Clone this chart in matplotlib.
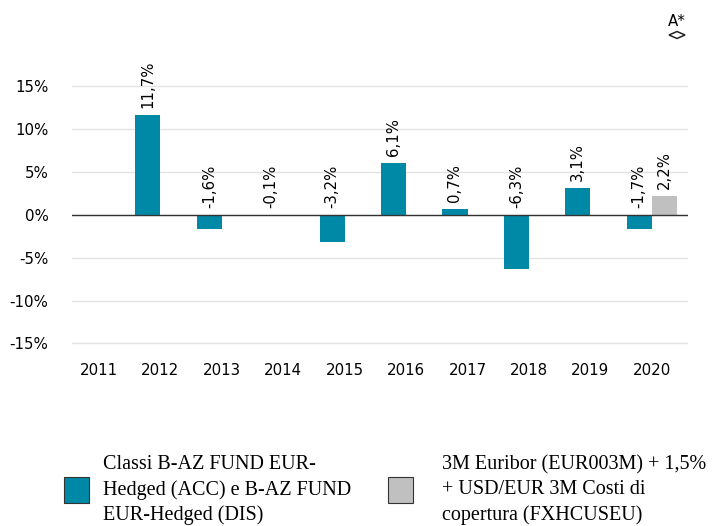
import numpy as np
import matplotlib
matplotlib.use("Agg")
import matplotlib.pyplot as plt
from matplotlib.patches import Rectangle, Polygon

plt.rcParams["font.family"] = ["DejaVu Sans"]

years = ["2011", "2012", "2013", "2014", "2015", "2016", "2017", "2018", "2019", "2020"]
fund = [np.nan, 11.7, -1.6, -0.1, -3.2, 6.1, 0.7, -6.3, 3.1, -1.7]
bench = [np.nan, np.nan, np.nan, np.nan, np.nan, np.nan, np.nan, np.nan, np.nan, 2.2]
yticks = [15, 10, 5, 0, -5, -10, -15]

fund_color = "#0089A7"
bench_color = "#C0C0C0"

fig = plt.figure(figsize=(7.18, 5.26), dpi=100)
ax = fig.add_axes([72 / 718, 1 - 352 / 526, 616 / 718, (352 - 60.7) / 526])

x = np.arange(len(years))
w = 0.41
ax.bar(x - w / 2, fund, width=w, color=fund_color, zorder=3)
ax.bar(x + w / 2, bench, width=w, color=bench_color, zorder=3)

def fmt(v):
    return f"{v:.1f}%".replace(".", ",")

for xi, v in zip(x, fund):
    if np.isnan(v):
        continue
    ax.annotate(fmt(v), (xi - w / 2, max(v, 0)), xytext=(0, 5), textcoords="offset points",
                rotation=90, ha="center", va="bottom", fontsize=10.7, clip_on=False)
for xi, v in zip(x, bench):
    if np.isnan(v):
        continue
    ax.annotate(fmt(v), (xi + w / 2, max(v, 0)), xytext=(0, 5), textcoords="offset points",
                rotation=90, ha="center", va="bottom", fontsize=10.7, clip_on=False)

ax.set_xlim(-0.44, 9.59)
ax.set_ylim(-16, 18)
ax.set_yticks(yticks)
ax.set_yticklabels([f"{t}%" for t in yticks], fontsize=10.8)
ax.set_xticks(x)
ax.set_xticklabels(years, fontsize=10.8)
ax.tick_params(length=0)
ax.tick_params(axis="x", pad=8)
ax.tick_params(axis="y", pad=17)
ax.grid(axis="y", color="#e3e3e3", lw=1, zorder=0)
ax.axhline(0, color="#333333", lw=1, zorder=4)
for s in ax.spines.values():
    s.set_visible(False)

# marker top right
fig.text(677 / 718, 1 - 22 / 526, "A*", ha="center", va="center", fontsize=10.8)
dia = [(669, 35), (677, 31.5), (685, 35), (677, 38.5)]
fig.patches.append(Polygon([(px / 718, 1 - py / 526) for px, py in dia], closed=True,
                           transform=fig.transFigure, facecolor="none",
                           edgecolor="#222222", lw=1.1))

# legend
serif = ["Liberation Serif", "DejaVu Serif"]
fig.patches.append(Rectangle((64 / 718, 1 - 503 / 526), 25 / 718, 26 / 526,
                             transform=fig.transFigure, facecolor=fund_color,
                             edgecolor="#333333", lw=0.8))
fig.patches.append(Rectangle((388 / 718, 1 - 503 / 526), 25 / 718, 26 / 526,
                             transform=fig.transFigure, facecolor=bench_color,
                             edgecolor="#333333", lw=0.8))
fig.text(103 / 718, 1 - 490 / 526,
         "Classi B-AZ FUND EUR-\nHedged (ACC) e B-AZ FUND\nEUR-Hedged (DIS)",
         ha="left", va="center", fontsize=14.5, family=serif, linespacing=1.42)
fig.text(442 / 718, 1 - 490 / 526,
         "3M Euribor (EUR003M) + 1,5%\n+ USD/EUR 3M Costi di\ncopertura (FXHCUSEU)",
         ha="left", va="center", fontsize=14.5, family=serif, linespacing=1.42)

fig.savefig("out.png", dpi=100)
